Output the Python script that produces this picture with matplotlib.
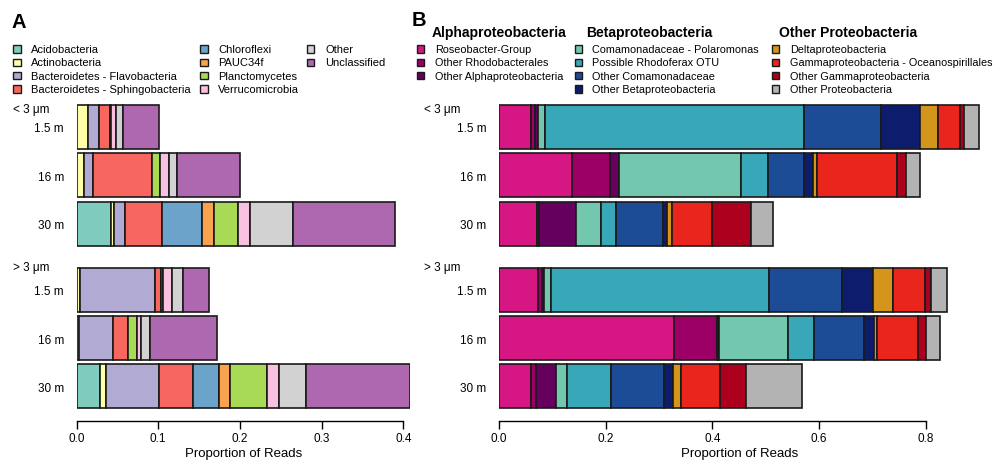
import matplotlib
matplotlib.use("Agg")
import matplotlib.pyplot as plt
from matplotlib.patches import Rectangle

plt.rcParams['font.family'] = ['Liberation Sans', 'DejaVu Sans']

depths = ['1.5 m', '16 m', '30 m']
fractions = ['< 3 μm', '> 3 μm']

# Panel A: phyla
phyla = ['Acidobacteria', 'Actinobacteria', 'Bacteroidetes - Flavobacteria',
         'Bacteroidetes - Sphingobacteria', 'Chloroflexi', 'PAUC34f',
         'Planctomycetes', 'Verrucomicrobia', 'Other', 'Unclassified']
phyla_colors = ['#7FCCBE', '#FFFFA8', '#B1AAD2', '#F7675F', '#6BA3CB',
                '#FBA24F', '#A8DA56', '#F9C1E0', '#D2D2D2', '#AE68AF']

a_small_1_5 = [0, 0.0138, 0.0139, 0.0130, 0, 0, 0.0015, 0.0061, 0.0086, 0.0435]
a_small_16 = [0, 0.0092, 0.0104, 0.0734, 0, 0, 0.0092, 0.0110, 0.0100, 0.0766]
a_small_30 = [0.0424, 0.0040, 0.0135, 0.0444, 0.0498, 0.0143, 0.0297, 0.0147, 0.0517, 0.1256]
a_large_1_5 = [0, 0.0040, 0.0926, 0.0070, 0, 0, 0.0028, 0.0106, 0.0135, 0.0313]
a_large_16 = [0, 0.0033, 0.0416, 0.0183, 0, 0, 0.0110, 0.0053, 0.0110, 0.0820]
a_large_30 = [0.0285, 0.0073, 0.0653, 0.0416, 0.0313, 0.0135, 0.0457, 0.0142, 0.0339, 0.1272]

# Panel B: proteobacteria
proteo = ['Roseobacter-Group', 'Other Rhodobacterales', 'Other Alphaproteobacteria',
          'Comamonadaceae - Polaromonas', 'Possible Rhodoferax OTU',
          'Other Comamonadaceae', 'Other Betaproteobacteria',
          'Deltaproteobacteria', 'Gammaproteobacteria - Oceanospirillales',
          'Other Gammaproteobacteria', 'Other Proteobacteria']
proteo_colors = ['#D51683', '#9C0066', '#65005F', '#72C7AE', '#38A8B8',
                 '#1D4C96', '#0E1C6E', '#D4951D', '#EA251C', '#AD001E', '#B3B3B3']
proteo_groups = ['Alphaproteobacteria', 'Betaproteobacteria', 'Other Proteobacteria']
proteo_group_sizes = [3, 4, 4]

b_small_1_5 = [0.0594, 0.0081, 0.0050, 0.0137, 0.4862, 0.1438, 0.0731, 0.0338, 0.0413, 0.0069, 0.0293]
b_small_16 = [0.1369, 0.0718, 0.0158, 0.2293, 0.0506, 0.0681, 0.0169, 0.0075, 0.1489, 0.0169, 0.0274]
b_small_30 = [0.0707, 0.0049, 0.0688, 0.0463, 0.0281, 0.0881, 0.0086, 0.0083, 0.0761, 0.0726, 0.0418]
b_large_1_5 = [0.0726, 0.0075, 0.0043, 0.0137, 0.4088, 0.1358, 0.0593, 0.0375, 0.0600, 0.0107, 0.0294]
b_large_16 = [0.3287, 0.0795, 0.0049, 0.1283, 0.0493, 0.0943, 0.0176, 0.0056, 0.0780, 0.0139, 0.0274]
b_large_30 = [0.0594, 0.0094, 0.0381, 0.0201, 0.0825, 0.0999, 0.0163, 0.0150, 0.0737, 0.0482, 0.1061]

a_ticks = [0.0, 0.1, 0.2, 0.3, 0.4]
b_ticks = [0.0, 0.2, 0.4, 0.6, 0.8]

W, H = 995, 464
fig = plt.figure(figsize=(W / 100, H / 100), dpi=100)

# overlay in pixel coordinates for legends / labels
ov = fig.add_axes([0, 0, 1, 1])
ov.set_xlim(0, W)
ov.set_ylim(H, 0)
ov.axis('off')
ov.patch.set_alpha(0)

pos = [0, 1, 2, 3.36, 4.36, 5.36]
unit = 48.4
y_first = 128
ax_top, ax_bottom = 100, 422


def px_axes(left, right):
    return fig.add_axes([left / W, 1 - ax_bottom / H, (right - left) / W, (ax_bottom - ax_top) / H])


def draw_panel(ax, samples, colors, xmax, ticks):
    cum = [0.0] * len(samples)
    for i, c in enumerate(colors):
        vals = [s[i] for s in samples]
        ax.barh(pos, vals, left=cum, height=0.91, color=c,
                edgecolor='#1a1a1a', linewidth=1.2)
        cum = [a + b for a, b in zip(cum, vals)]
    ax.set_xlim(0, xmax)
    ax.set_ylim((ax_bottom - y_first) / unit, (ax_top - y_first) / unit)
    for s in ['left', 'top', 'right']:
        ax.spines[s].set_visible(False)
    ax.spines['bottom'].set_bounds(ticks[0], ticks[-1])
    ax.spines['bottom'].set_linewidth(1.0)
    ax.set_xticks(ticks, [f'{t:.1f}' for t in ticks])
    ax.set_yticks(pos, depths * 2)
    ax.tick_params(axis='x', length=5.5, width=1.0, labelsize=8.5, pad=2.5)
    ax.tick_params(axis='y', length=0, labelsize=8.5, pad=9)
    ax.set_xlabel('Proportion of Reads', fontsize=9.5, labelpad=2)


axA = px_axes(76.5, 410)
draw_panel(axA, [a_small_1_5, a_small_16, a_small_30, a_large_1_5, a_large_16, a_large_30],
           phyla_colors, (410 - 76.5) / 817, a_ticks)
axB = px_axes(499, 981)
draw_panel(axB, [b_small_1_5, b_small_16, b_small_30, b_large_1_5, b_large_16, b_large_30],
           proteo_colors, (981 - 499) / 533.3, b_ticks)

# size fraction labels
for x0 in [13, 424]:
    ov.text(x0, 110, fractions[0], fontsize=8.5, va='center', ha='left')
    ov.text(x0, 268, fractions[1], fontsize=8.5, va='center', ha='left')

# panel letters
ov.text(11, 22, 'A', fontsize=14.5, fontweight='bold', va='center', ha='left')
ov.text(412, 20, 'B', fontsize=14.5, fontweight='bold', va='center', ha='left')

rows = [50, 63.3, 76.7, 90]
sq = 7.5


def legend_item(xm, xt, y, color, label, fs):
    ov.add_patch(Rectangle((xm - sq / 2, y - sq / 2), sq, sq, facecolor=color,
                           edgecolor='#1a1a1a', linewidth=1.0))
    ov.text(xt, y, label, fontsize=fs, va='center', ha='left')


# legend A
a_cols = [(17, 31), (204, 218.3), (310.5, 325)]
for i, (name, col) in enumerate(zip(phyla, phyla_colors)):
    xm, xt = a_cols[i // 4]
    legend_item(xm, xt, rows[i % 4], col, name, 8)

# legend B
b_cols = [(420.5, 435), (578.5, 592.5), (775.5, 790)]
b_heads = [432, 586, 779]
k = 0
for g, (gname, n) in enumerate(zip(proteo_groups, proteo_group_sizes)):
    ov.text(b_heads[g], 33, gname, fontsize=10, fontweight='bold', va='center', ha='left')
    xm, xt = b_cols[g]
    for r in range(n):
        legend_item(xm, xt, rows[r], proteo_colors[k], proteo[k], 7.8)
        k += 1

fig.savefig('out.png', dpi=100)
